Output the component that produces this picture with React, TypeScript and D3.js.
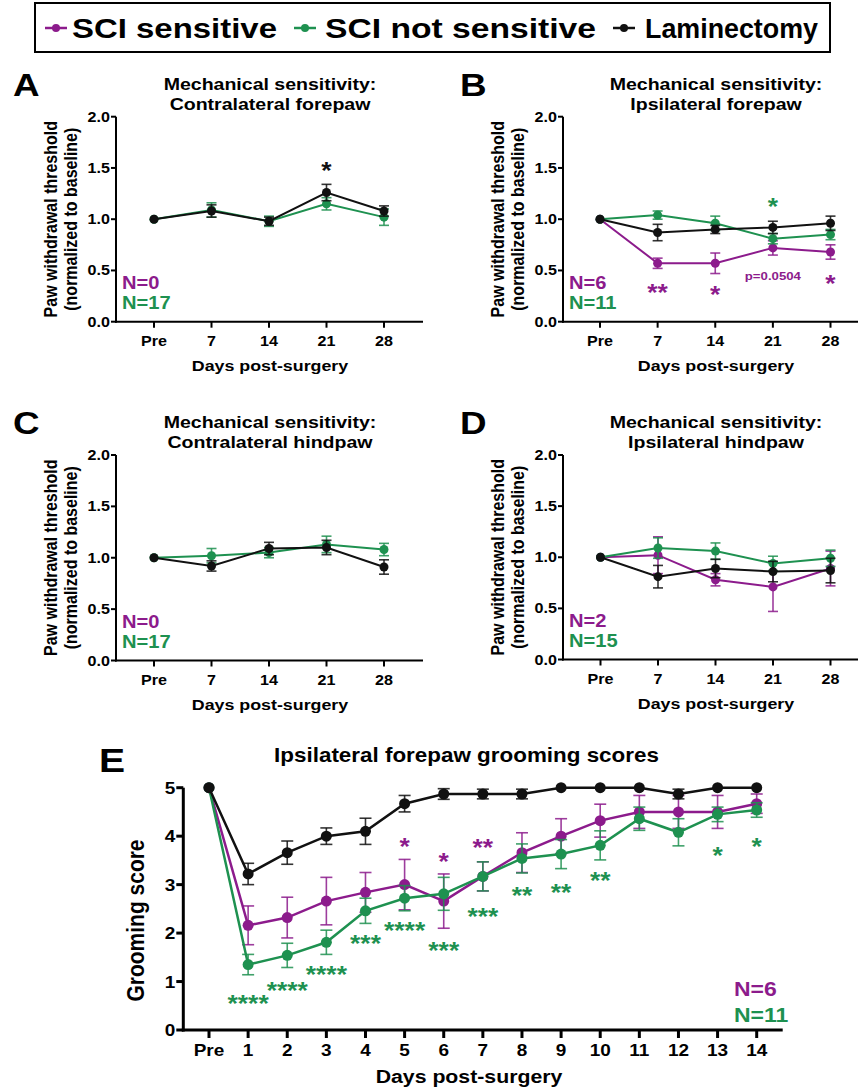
import React from "react";
import * as d3 from "d3";

const PURPLE = "#8c1b8c";
const GREEN = "#1e9150";
const BLACK = "#111111";
const FONT = "'Liberation Sans', Arial, Helvetica, sans-serif";
const SX = 1.15;

// ---------- data ----------
const legendLabels = ["SCI sensitive", "SCI not sensitive", "Laminectomy"];

const mechDays = ["Pre", "7", "14", "21", "28"];
const mechTicks = [0, 0.5, 1.0, 1.5, 2.0];

const aGreen = [1.0, 1.09, 0.98, 1.15, 1.02];
const aGreenErr = [0, 0.07, 0.05, 0.06, 0.08];
const aBlack = [1.0, 1.08, 0.98, 1.26, 1.08];
const aBlackErr = [0, 0.06, 0.04, 0.08, 0.05];

const bPurple = [1.0, 0.57, 0.57, 0.72, 0.68];
const bPurpleErr = [0, 0.05, 0.1, 0.07, 0.07];
const bGreen = [1.0, 1.04, 0.96, 0.81, 0.85];
const bGreenErr = [0, 0.04, 0.07, 0.05, 0.05];
const bBlack = [1.0, 0.87, 0.9, 0.92, 0.96];
const bBlackErr = [0, 0.08, 0.04, 0.06, 0.07];

const cGreen = [1.0, 1.02, 1.05, 1.13, 1.08];
const cGreenErr = [0, 0.07, 0.05, 0.08, 0.06];
const cBlack = [1.0, 0.92, 1.09, 1.1, 0.91];
const cBlackErr = [0, 0.05, 0.06, 0.07, 0.07];

const dPurple = [1.0, 1.02, 0.78, 0.71, 0.89];
const dPurpleErr = [0, 0.18, 0.06, 0.24, 0.17];
const dGreen = [1.0, 1.09, 1.06, 0.94, 0.99];
const dGreenErr = [0, 0.1, 0.08, 0.07, 0.08];
const dBlack = [1.0, 0.81, 0.89, 0.86, 0.87];
const dBlackErr = [0, 0.11, 0.09, 0.1, 0.12];

const eDays = ["Pre", "1", "2", "3", "4", "5", "6", "7", "8", "9", "10", "11", "12", "13", "14"];
const eTicks = [0, 1, 2, 3, 4, 5];
const ePurple = [5, 2.16, 2.32, 2.66, 2.84, 3.0, 2.66, 3.17, 3.66, 4.0, 4.32, 4.5, 4.5, 4.5, 4.67];
const ePurpleErr = [0, 0.4, 0.42, 0.49, 0.41, 0.52, 0.56, 0.3, 0.41, 0.36, 0.34, 0.34, 0.34, 0.34, 0.2];
const eGreen = [5, 1.35, 1.54, 1.81, 2.46, 2.72, 2.81, 3.17, 3.54, 3.63, 3.81, 4.36, 4.08, 4.45, 4.54];
const eGreenErr = [0, 0.21, 0.25, 0.25, 0.26, 0.26, 0.34, 0.3, 0.3, 0.3, 0.3, 0.24, 0.28, 0.15, 0.15];
const eBlack = [5, 3.22, 3.66, 4.0, 4.1, 4.67, 4.87, 4.87, 4.87, 5, 5, 5, 4.87, 5, 5];
const eBlackErr = [0, 0.22, 0.24, 0.17, 0.27, 0.17, 0.11, 0.1, 0.1, 0, 0, 0, 0.1, 0, 0];

// significance labels: x index, y value (visual centre), text
const aStars = [{ i: 3, v: 1.52, t: "*", c: BLACK }];
const bStars = [
  { i: 1, v: 0.33, t: "**", c: PURPLE },
  { i: 2, v: 0.31, t: "*", c: PURPLE },
  { i: 4, v: 0.42, t: "*", c: PURPLE },
  { i: 3, v: 1.17, t: "*", c: GREEN },
];
const bNotes = [{ i: 3, v: 0.45, t: "p=0.0504", c: PURPLE }];
const eStars = [
  { i: 1, v: 0.66, t: "****", c: GREEN },
  { i: 2, v: 0.91, t: "****", c: GREEN },
  { i: 3, v: 1.24, t: "****", c: GREEN },
  { i: 4, v: 1.88, t: "***", c: GREEN },
  { i: 5, v: 2.16, t: "****", c: GREEN },
  { i: 6, v: 1.74, t: "***", c: GREEN },
  { i: 7, v: 2.45, t: "***", c: GREEN },
  { i: 8, v: 2.87, t: "**", c: GREEN },
  { i: 9, v: 2.95, t: "**", c: GREEN },
  { i: 10, v: 3.18, t: "**", c: GREEN },
  { i: 13, v: 3.71, t: "*", c: GREEN },
  { i: 14, v: 3.9, t: "*", c: GREEN },
  { i: 5, v: 3.88, t: "*", c: PURPLE },
  { i: 6, v: 3.59, t: "*", c: PURPLE },
  { i: 7, v: 3.86, t: "**", c: PURPLE },
];

type Ann = { i: number; v: number; t: string; c: string };
type Series = { mean: number[]; err: number[]; color: string };

function T(props: {
  x: number; y: number; size: number; anchor?: string; fill?: string;
  weight?: string; rotate?: number; sx?: number; sy?: number; children: React.ReactNode;
  textLength?: number;
}) {
  const { x, y, size, anchor = "start", fill = "#000", weight = "bold", rotate = 0, sx = SX, sy = 1 } = props;
  const tr = `translate(${x},${y})${rotate ? ` rotate(${rotate})` : ""} scale(${sx},${sy})`;
  return (
    <text transform={tr} textAnchor={anchor as any} fontSize={size} fontWeight={weight}
      fill={fill} fontFamily={FONT}
      {...(props.textLength ? { textLength: props.textLength, lengthAdjust: "spacingAndGlyphs" } : {})}
    >{props.children}</text>
  );
}

function SeriesMarks({ s, x, y, r, lw, cap, elw }: { s: Series; x: (i: number) => number; y: d3.ScaleLinear<number, number>; r: number; lw: number; cap: number; elw: number }) {
  const line = d3.line<number>().x((_, i) => x(i)).y((d) => y(d));
  return (
    <g>
      <path d={line(s.mean) || ""} fill="none" stroke={s.color} strokeWidth={lw} />
      {s.mean.map((m, i) => {
        const e = s.err[i];
        if (!e) return null;
        const cx = x(i);
        return (
          <g key={"e" + i} stroke={s.color} strokeWidth={elw} strokeOpacity={0.85}>
            <line x1={cx} x2={cx} y1={y(m + e)} y2={y(m - e)} />
            <line x1={cx - cap} x2={cx + cap} y1={y(m + e)} y2={y(m + e)} />
            <line x1={cx - cap} x2={cx + cap} y1={y(m - e)} y2={y(m - e)} />
          </g>
        );
      })}
      {s.mean.map((m, i) => (
        <circle key={"c" + i} cx={x(i)} cy={y(m)} r={r} fill={s.color} />
      ))}
    </g>
  );
}

function MechPanel(p: {
  letter: string; title: string[]; axisX: number; axisEnd: number; preX: number; lastX: number;
  yTop: number; yBottom: number; series: Series[]; stars: Ann[]; notes: Ann[]; nPurple: string; nGreen: string;
  titleX: number;
}) {
  const y = d3.scaleLinear().domain([0, 2]).range([p.yBottom, p.yTop]);
  const xs = d3.scaleLinear().domain([0, mechDays.length - 1]).range([p.preX, p.lastX]);
  const x = (i: number) => xs(i);
  const midY = (p.yTop + p.yBottom) / 2;
  return (
    <g>
      <T x={p.axisX - 103} y={p.yTop - 21} size={32}>{p.letter}</T>
      <T x={p.titleX} y={p.yTop - 27} size={17} anchor="middle">{p.title[0]}</T>
      <T x={p.titleX} y={p.yTop - 7} size={17} anchor="middle">{p.title[1]}</T>
      <T x={p.axisX - 59} y={midY} size={16} anchor="middle" rotate={-90} sx={1} sy={SX}>Paw withdrawal threshold</T>
      <T x={p.axisX - 39} y={midY} size={16} anchor="middle" rotate={-90} sx={1} sy={SX}>(normalized to baseline)</T>
      {/* axes */}
      <g stroke="#000" strokeWidth={2}>
        <line x1={p.axisX} x2={p.axisX} y1={p.yTop} y2={p.yBottom + 1} />
        <line x1={p.axisX - 1} x2={p.axisEnd} y1={p.yBottom} y2={p.yBottom} />
        {mechTicks.map((t) => (
          <line key={t} x1={p.axisX - 5} x2={p.axisX} y1={y(t)} y2={y(t)} />
        ))}
        {mechDays.map((d, i) => (
          <line key={d} x1={x(i)} x2={x(i)} y1={p.yBottom} y2={p.yBottom + 6} />
        ))}
      </g>
      {mechTicks.map((t) => (
        <T key={t} x={p.axisX - 6} y={y(t) + 5} size={14} anchor="end">{d3.format(".1f")(t)}</T>
      ))}
      {mechDays.map((d, i) => (
        <T key={d} x={x(i)} y={p.yBottom + 24.5} size={14} anchor="middle">{d}</T>
      ))}
      <T x={p.titleX} y={p.yBottom + 49} size={15.5} anchor="middle">Days post-surgery</T>
      {p.series.map((s, k) => (
        <SeriesMarks key={k} s={s} x={x} y={y} r={4.5} lw={2} cap={5} elw={1.6} />
      ))}
      {p.stars.map((a, k) => (
        <T key={k} x={x(a.i)} y={y(a.v) + 13} size={23} anchor="middle" fill={a.c}>{a.t}</T>
      ))}
      {p.notes.map((a, k) => (
        <T key={k} x={x(a.i)} y={y(a.v) + 4} size={11.5} anchor="middle" fill={a.c}>{a.t}</T>
      ))}
      <T x={p.axisX + 6} y={p.yBottom - 33} size={17.5} fill={PURPLE}>{p.nPurple}</T>
      <T x={p.axisX + 6} y={p.yBottom - 13} size={17.5} fill={GREEN}>{p.nGreen}</T>
    </g>
  );
}

function PanelE() {
  const axisX = 183.3, axisEnd = 782.7, preX = 209, lastX = 756.7, yTop = 787.7, yBottom = 1030;
  const y = d3.scaleLinear().domain([0, 5]).range([yBottom, yTop]);
  const xs = d3.scaleLinear().domain([0, eDays.length - 1]).range([preX, lastX]);
  const x = (i: number) => xs(i);
  const series: Series[] = [
    { mean: ePurple, err: ePurpleErr, color: PURPLE },
    { mean: eGreen, err: eGreenErr, color: GREEN },
    { mean: eBlack, err: eBlackErr, color: BLACK },
  ];
  return (
    <g>
      <T x={99} y={772} size={34}>E</T>
      <T x={466.5} y={762} size={19.5} anchor="middle">Ipsilateral forepaw grooming scores</T>
      <T x={144} y={920.5} size={21} anchor="middle" rotate={-90} sx={1} sy={SX}>Grooming score</T>
      <g stroke="#000" strokeWidth={3}>
        <line x1={axisX} x2={axisX} y1={yTop} y2={yBottom + 1.5} />
        <line x1={axisX - 1.5} x2={axisEnd} y1={yBottom} y2={yBottom} />
        {eTicks.map((t) => (
          <line key={t} x1={axisX - 7} x2={axisX} y1={y(t)} y2={y(t)} />
        ))}
        {eDays.map((d, i) => (
          <line key={d} x1={x(i)} x2={x(i)} y1={yBottom} y2={yBottom + 8} />
        ))}
      </g>
      {eTicks.map((t) => (
        <T key={t} x={axisX - 8} y={y(t) + 6} size={16.5} anchor="end">{String(t)}</T>
      ))}
      {eDays.map((d, i) => (
        <T key={d} x={x(i)} y={yBottom + 26} size={16.5} anchor="middle">{d}</T>
      ))}
      <T x={469} y={1083} size={18.5} anchor="middle">Days post-surgery</T>
      {series.map((s, k) => (
        <SeriesMarks key={k} s={s} x={x} y={y} r={5.5} lw={2.5} cap={6} elw={1.6} />
      ))}
      {eStars.map((a, k) => (
        <T key={k} x={x(a.i)} y={y(a.v) + 13.5} size={23} anchor="middle" fill={a.c}>{a.t}</T>
      ))}
      <T x={734} y={996} size={20} fill={PURPLE}>N=6</T>
      <T x={734} y={1021.5} size={20} fill={GREEN}>N=11</T>
    </g>
  );
}

function Legend() {
  const colors = [PURPLE, GREEN, BLACK];
  const markX = [56, 305, 624];
  const textX = [72, 325, 645];
  const textW = [205, 271, 173];
  return (
    <g>
      <rect x={35} y={3} width={795} height={49} fill="#fff" stroke="#000" strokeWidth={2} />
      {legendLabels.map((label, k) => (
        <g key={label}>
          <line x1={markX[k] - 11} x2={markX[k] + 11} y1={28} y2={28} stroke={colors[k]} strokeWidth={2.5} />
          <circle cx={markX[k]} cy={28} r={4} fill={colors[k]} />
          <T x={textX[k]} y={37.5} size={27} sx={1} textLength={textW[k]}>{label}</T>
        </g>
      ))}
    </g>
  );
}

export default function App() {
  return (
    <svg width={859} height={1090} style={{ position: "absolute", left: 0, top: 0, background: "#fff" }}>
      <rect x={0} y={0} width={859} height={1090} fill="#fff" />
      <Legend />
      <MechPanel letter="A" title={["Mechanical sensitivity:", "Contralateral forepaw"]} titleX={270}
        axisX={116} axisEnd={423} preX={154} lastX={384} yTop={116.7} yBottom={321.7}
        series={[{ mean: aGreen, err: aGreenErr, color: GREEN }, { mean: aBlack, err: aBlackErr, color: BLACK }]}
        stars={aStars} notes={[]} nPurple="N=0" nGreen="N=17" />
      <MechPanel letter="B" title={["Mechanical sensitivity:", "Ipsilateral forepaw"]} titleX={716}
        axisX={563} axisEnd={858} preX={600} lastX={830.5} yTop={116.7} yBottom={321.7}
        series={[{ mean: bPurple, err: bPurpleErr, color: PURPLE }, { mean: bGreen, err: bGreenErr, color: GREEN }, { mean: bBlack, err: bBlackErr, color: BLACK }]}
        stars={bStars} notes={bNotes} nPurple="N=6" nGreen="N=11" />
      <MechPanel letter="C" title={["Mechanical sensitivity:", "Contralateral hindpaw"]} titleX={270}
        axisX={116} axisEnd={423} preX={154} lastX={384} yTop={455} yBottom={660.5}
        series={[{ mean: cGreen, err: cGreenErr, color: GREEN }, { mean: cBlack, err: cBlackErr, color: BLACK }]}
        stars={[]} notes={[]} nPurple="N=0" nGreen="N=17" />
      <MechPanel letter="D" title={["Mechanical sensitivity:", "Ipsilateral hindpaw"]} titleX={716}
        axisX={563} axisEnd={858} preX={600.5} lastX={830.5} yTop={455} yBottom={659.5}
        series={[{ mean: dPurple, err: dPurpleErr, color: PURPLE }, { mean: dGreen, err: dGreenErr, color: GREEN }, { mean: dBlack, err: dBlackErr, color: BLACK }]}
        stars={[]} notes={[]} nPurple="N=2" nGreen="N=15" />
      <PanelE />
    </svg>
  );
}
